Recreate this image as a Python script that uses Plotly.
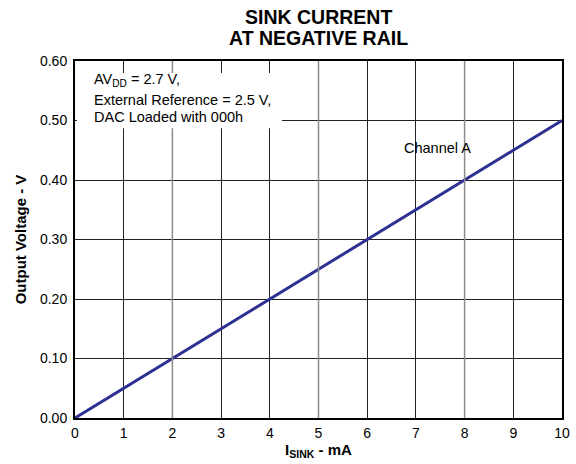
import plotly.graph_objects as go

# Data
sink_current_ma = [0, 10]
output_voltage_v = [0.0, 0.5]
x_ticks = list(range(0, 11))
y_ticks = [0.0, 0.1, 0.2, 0.3, 0.4, 0.5, 0.6]
y_tick_labels = ["0.00", "0.10", "0.20", "0.30", "0.40", "0.50", "0.60"]
title_lines = ["SINK CURRENT", "AT NEGATIVE RAIL"]
note_lines = ["AV<sub>DD</sub> = 2.7 V,", "External Reference = 2.5 V,", "DAC Loaded with 000h"]
gray_grid_x = [2, 5, 8]

font = "Liberation Sans, Arial, sans-serif"

fig = go.Figure()
fig.add_trace(go.Scatter(x=sink_current_ma, y=output_voltage_v, mode="lines",
                         line=dict(color="#2E3192", width=3), showlegend=False))

# lighter vertical grid lines at some positions
for gx in gray_grid_x:
    fig.add_shape(type="line", x0=gx, x1=gx, y0=0, y1=0.6, xref="x", yref="y",
                  line=dict(color="#8c8c8c", width=1.5), layer="above")

# white box behind annotation text (same axis refs so it stacks above the gray lines)
fig.add_shape(type="rect", xref="x", yref="y", x0=0.04, x1=4.25, y0=0.487, y1=0.58,
              fillcolor="white", line=dict(width=0), layer="above")

for i, line in enumerate(note_lines):
    fig.add_annotation(x=0.035, y=[0.946, 0.892, 0.843][i], xref="paper", yref="paper",
                       xanchor="left", yanchor="middle", showarrow=False, text=line,
                       font=dict(family=font, size=14.5, color="black"))

fig.add_annotation(x=7.45, y=0.454, xref="x", yref="y", xanchor="center", yanchor="middle",
                   showarrow=False, text="Channel A",
                   font=dict(family=font, size=14.5, color="black"))

# Title as two annotations (pixel rows converted to paper coords)
plot_top, plot_bottom = 61, 418
for i, line in enumerate(title_lines):
    py = [17.5, 37.5][i]
    fig.add_annotation(x=0.5, y=(plot_bottom - py) / (plot_bottom - plot_top),
                       xref="paper", yref="paper", showarrow=False,
                       text="<b>" + line + "</b>", xanchor="center", yanchor="middle",
                       font=dict(family=font, size=19.5, color="black"))

fig.update_layout(
    width=576, height=464,
    margin=dict(l=75, r=14, t=61, b=46, autoexpand=False),
    paper_bgcolor="white", plot_bgcolor="white",
    xaxis=dict(range=[0, 10], tickvals=x_ticks, ticks="outside", ticklen=1, tickcolor="white",
               showgrid=True, gridcolor="#222", automargin=False,
               gridwidth=1, showline=True, linecolor="black", linewidth=2, mirror=True,
               zeroline=False, tickfont=dict(family=font, size=14, color="black"),
               title=dict(text="<b>I<sub>SINK</sub> - mA</b>", standoff=2,
                          font=dict(family=font, size=15, color="black"))),
    yaxis=dict(range=[0, 0.6], tickvals=y_ticks, ticktext=y_tick_labels, ticks="outside",
               ticklen=3, tickcolor="white", showgrid=True, gridcolor="#222", gridwidth=1,
               automargin=False,
               showline=True, linecolor="black", linewidth=2, mirror=True, zeroline=False,
               tickfont=dict(family=font, size=14, color="black"),
               title=dict(text="<b>Output Voltage - V</b>", standoff=10,
                          font=dict(family=font, size=15, color="black"))),
)

fig.write_html("out.html", config={"displayModeBar": False},
               post_script="document.body.style.margin='0';")
